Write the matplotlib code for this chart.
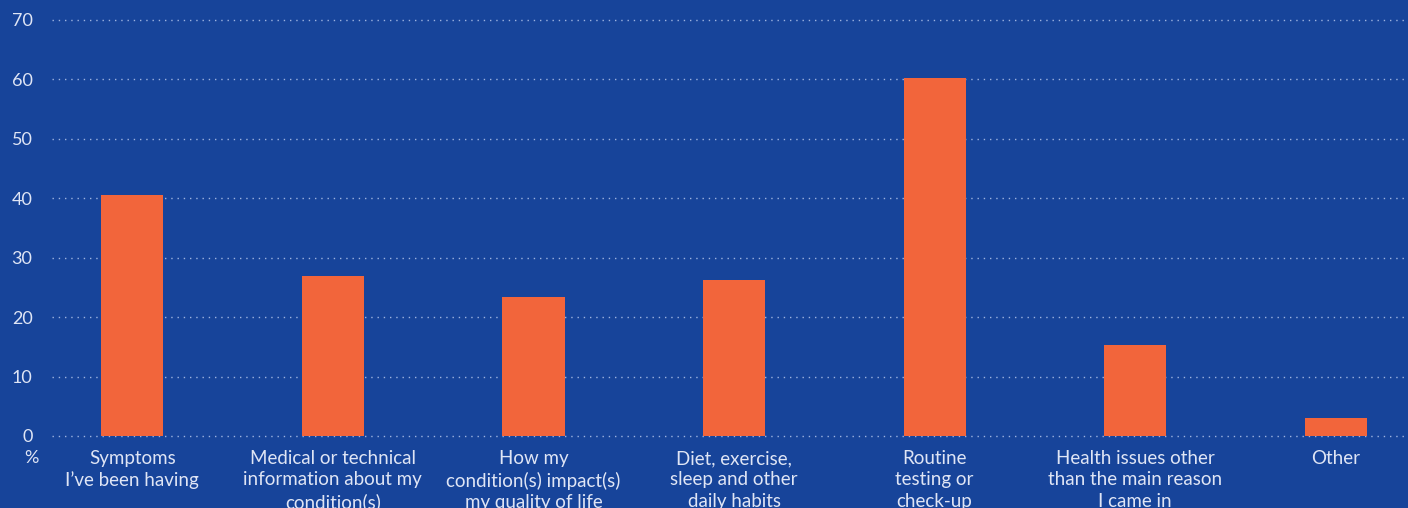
import matplotlib
matplotlib.use("Agg")
import matplotlib.pyplot as plt

categories = [
    "Symptoms\nI’ve been having",
    "Medical or technical\ninformation about my\ncondition(s)",
    "How my\ncondition(s) impact(s)\nmy quality of life",
    "Diet, exercise,\nsleep and other\ndaily habits",
    "Routine\ntesting or\ncheck-up",
    "Health issues other\nthan the main reason\nI came in",
    "Other",
]
values = [40.6, 26.9, 23.4, 26.3, 60.3, 15.3, 3.0]
yticks = [0, 10, 20, 30, 40, 50, 60, 70]

BG = "#17449a"
BAR = "#f2653b"
TEXT = "#dfe5f5"

plt.rcParams["font.family"] = ["Lato", "DejaVu Sans"]

fig = plt.figure(figsize=(14.08, 5.08), dpi=100, facecolor=BG)
# axes spans from the first gridline start (x=52) to the right edge, 0 at y=436, 70 at y=20
ax = fig.add_axes([52 / 1408, (508 - 436) / 508, (1408 - 52) / 1408, (436 - 20) / 508])
ax.set_facecolor(BG)

x = range(len(categories))
ax.bar(x, values, width=0.31, color=BAR, zorder=3)

ax.set_xlim(-0.4, 6.36)
ax.set_ylim(0, 70)
ax.set_yticks(yticks)
ax.set_yticklabels([str(v) for v in yticks], fontsize=13)
ax.set_xticks(list(x))
ax.set_xticklabels(categories, linespacing=1.32, fontsize=13.5)

for v in yticks:
    ax.axhline(v, color="#9db3e0", linestyle=(0, (1, 3.5)), linewidth=1.0, zorder=1, clip_on=False)

for s in ax.spines.values():
    s.set_visible(False)
ax.tick_params(axis="both", length=0, colors=TEXT)
ax.tick_params(axis="y", pad=14)
ax.tick_params(axis="x", pad=10)

fig.text(31 / 1408, 1 - 458 / 508, "%", color=TEXT, fontsize=13, ha="center", va="center")

fig.savefig("out.png", dpi=100, facecolor=BG)
